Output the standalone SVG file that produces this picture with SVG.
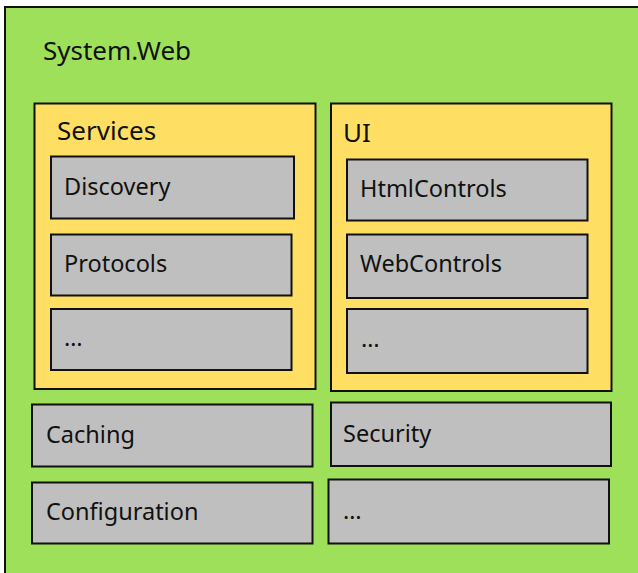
<svg xmlns="http://www.w3.org/2000/svg" width="638" height="573" viewBox="0 0 638 573">
  <style>
    .pkg { fill: #9ee05a; stroke: #111; stroke-width: 2; }
    .sub { fill: #ffdf63; stroke: #111; stroke-width: 2; }
    .leaf { fill: #bfbfbf; stroke: #111; stroke-width: 2; }
    text { font-family: "Noto Sans", Lato, sans-serif; fill: #111; }
    .title { font-size: 26px; }
    .label { font-size: 23.5px; }
  </style>
  <rect width="638" height="573" fill="#ffffff"/>

  <!-- System.Web namespace -->
  <g id="system-web">
    <rect class="pkg" x="5" y="7" width="640" height="580"/>
    <text class="title" x="43" y="60">System.Web</text>
  </g>

  <!-- Services namespace -->
  <g id="services">
    <rect class="sub" x="34.5" y="103.5" width="281" height="285.5"/>
    <text class="title" x="57" y="140">Services</text>
  </g>
  <g id="discovery">
    <rect class="leaf" x="51" y="156.5" width="243" height="62"/>
    <text class="label" x="64" y="195">Discovery</text>
  </g>
  <g id="protocols">
    <rect class="leaf" x="51" y="234.5" width="240.5" height="61"/>
    <text class="label" x="64" y="272">Protocols</text>
  </g>
  <g id="services-more">
    <rect class="leaf" x="51" y="309" width="240.5" height="61"/>
    <text class="label" x="64" y="346">…</text>
  </g>

  <!-- UI namespace -->
  <g id="ui">
    <rect class="sub" x="331" y="103.5" width="280.5" height="287.5"/>
    <text class="title" x="343" y="142">UI</text>
  </g>
  <g id="htmlcontrols">
    <rect class="leaf" x="347" y="159.5" width="240.5" height="61"/>
    <text class="label" x="360" y="197">HtmlControls</text>
  </g>
  <g id="webcontrols">
    <rect class="leaf" x="347" y="234.5" width="240.5" height="63.5"/>
    <text class="label" x="360" y="272">WebControls</text>
  </g>
  <g id="ui-more">
    <rect class="leaf" x="347" y="309" width="240.5" height="64"/>
    <text class="label" x="361" y="347">…</text>
  </g>

  <!-- Other namespaces -->
  <g id="caching">
    <rect class="leaf" x="32" y="404.5" width="280.5" height="62"/>
    <text class="label" x="46" y="443">Caching</text>
  </g>
  <g id="security">
    <rect class="leaf" x="331" y="402.5" width="280" height="63.5"/>
    <text class="label" x="343" y="442">Security</text>
  </g>
  <g id="configuration">
    <rect class="leaf" x="32" y="482.5" width="280.5" height="61"/>
    <text class="label" x="46" y="519.5">Configuration</text>
  </g>
  <g id="other-more">
    <rect class="leaf" x="328.5" y="479.5" width="280.5" height="64"/>
    <text class="label" x="343" y="519">…</text>
  </g>

  <!-- no connectors in this diagram -->
  <g id="connectors"/>
</svg>
